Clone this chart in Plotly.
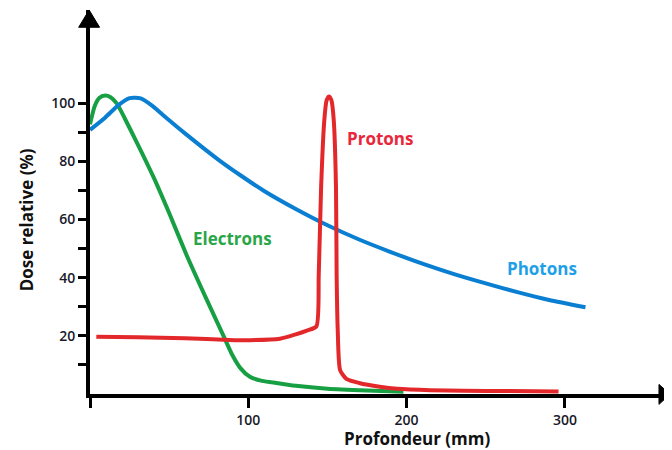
import plotly.graph_objects as go

# ---- data ----
photons_x = [0, 9.5, 18, 25, 32, 39, 47, 60, 81, 95, 110, 130, 150, 170, 190, 210, 230, 250, 270, 290, 313]
photons_y = [90.8, 95.0, 99.3, 101.7, 101.6, 99.2, 95.5, 89.6, 80.6, 75.2, 69.8, 63.6, 58.0, 53.1, 48.8, 44.8, 41.2, 38.0, 35.0, 32.3, 29.8]

electrons_x = [0, 3, 6, 9.5, 13, 17, 22, 30, 40, 50, 61, 73, 85, 90, 95, 101, 108, 115, 130, 150, 175, 198]
electrons_y = [92.7, 99.0, 101.8, 102.6, 102, 99.8, 94.7, 86, 74.7, 62.2, 47.8, 33.3, 19.2, 13.3, 8.9, 5.9, 4.6, 4.0, 2.8, 1.8, 1.2, 0.8]

protons_x = [4, 30, 60, 88, 101, 120, 130, 137, 143, 144.5, 146, 148, 149.5, 151, 152.5, 154, 155.4, 155.8, 156.5, 158, 162, 170, 183, 194, 215, 236, 265, 296]
protons_y = [19.7, 19.5, 19.2, 18.6, 18.5, 19.0, 20.5, 21.8, 23.2, 41, 71, 94, 101, 102.3, 101, 94, 71, 41, 22, 8.2, 5.2, 3.8, 2.5, 1.8, 1.3, 1.1, 1.0, 0.9]

x_tickvals = [0, 100, 200, 300]
x_ticktext = ["", "100", "200", "300"]
y_tickvals = [10, 20, 30, 40, 50, 60, 70, 80, 90, 100]
y_ticktext = ["", "20", "", "40", "", "60", "", "80", "", "100"]

labels = ["Electrons", "Photons", "Protons"]
label_x = [90, 285.5, 183.5]
label_y = [53.6, 43.3, 88]

line_colors = ["#17a043", "#0a7fd2", "#e2282a"]
text_colors = ["#2aa548", "#1ea0e8", "#e8283a"]

FONT = "Open Sans"

fig = go.Figure()
series = [(electrons_x, electrons_y), (photons_x, photons_y), (protons_x, protons_y)]
for (xs, ys), name, col in zip(series, labels, line_colors):
    fig.add_trace(go.Scatter(x=xs, y=ys, mode="lines", name=name,
                             line=dict(color=col, width=4, shape="spline", smoothing=0.6),
                             showlegend=False, cliponaxis=False))

for name, lx, ly, tc in zip(labels, label_x, label_y, text_colors):
    fig.add_annotation(x=lx, y=ly, text="<b>%s</b>" % name, showarrow=False,
                       font=dict(family=FONT, size=17, color=tc),
                       xanchor="center", yanchor="middle")

# axis titles
fig.add_annotation(xref="paper", yref="paper", x=0.563, y=-0.1146,
                   text="<b>Profondeur (mm)</b>", showarrow=False,
                   font=dict(family=FONT, size=17, color="#111"),
                   xanchor="center", yanchor="middle")
fig.add_annotation(xref="paper", yref="paper", x=-0.110, y=0.453,
                   text="<b>Dose relative (%)</b>", showarrow=False, textangle=-90,
                   font=dict(family=FONT, size=17, color="#111"),
                   xanchor="center", yanchor="middle")

# arrow heads on the axes
fig.add_shape(type="path", xref="paper", yref="paper",
              path="M -0.0195 0.955 L -0.0015 1.0 L 0.0165 0.955 Z",
              fillcolor="black", line=dict(color="black", width=1))
fig.add_shape(type="path", xref="paper", yref="paper",
              path="M 0.981 0.025 L 1.0 -0.0005 L 0.981 -0.027 Z",
              fillcolor="black", line=dict(color="black", width=1))

fig.update_xaxes(range=[0, 366.4], showline=True, linecolor="black", linewidth=4,
                 ticks="outside", ticklen=10, tickwidth=3, tickcolor="black",
                 tickvals=x_tickvals, ticktext=x_ticktext, showgrid=False, zeroline=False,
                 automargin=False,
                 tickfont=dict(family=FONT, size=14, color="#1a1a2a", weight=600))
fig.update_yaxes(range=[0, 132], showline=True, linecolor="black", linewidth=4,
                 ticks="outside", ticklen=8, tickwidth=3, tickcolor="black",
                 tickvals=y_tickvals, ticktext=y_ticktext, showgrid=False, zeroline=False,
                 automargin=False,
                 tickfont=dict(family=FONT, size=14, color="#1a1a2a", weight=600))

# the page places the figure 8px in from the top-left corner (body margin)
fig.update_layout(width=664, height=442,
                  margin=dict(l=82, r=2, t=2, b=56, autoexpand=False),
                  plot_bgcolor="white", paper_bgcolor="white",
                  font=dict(family=FONT))

fig.write_html("out.html")
